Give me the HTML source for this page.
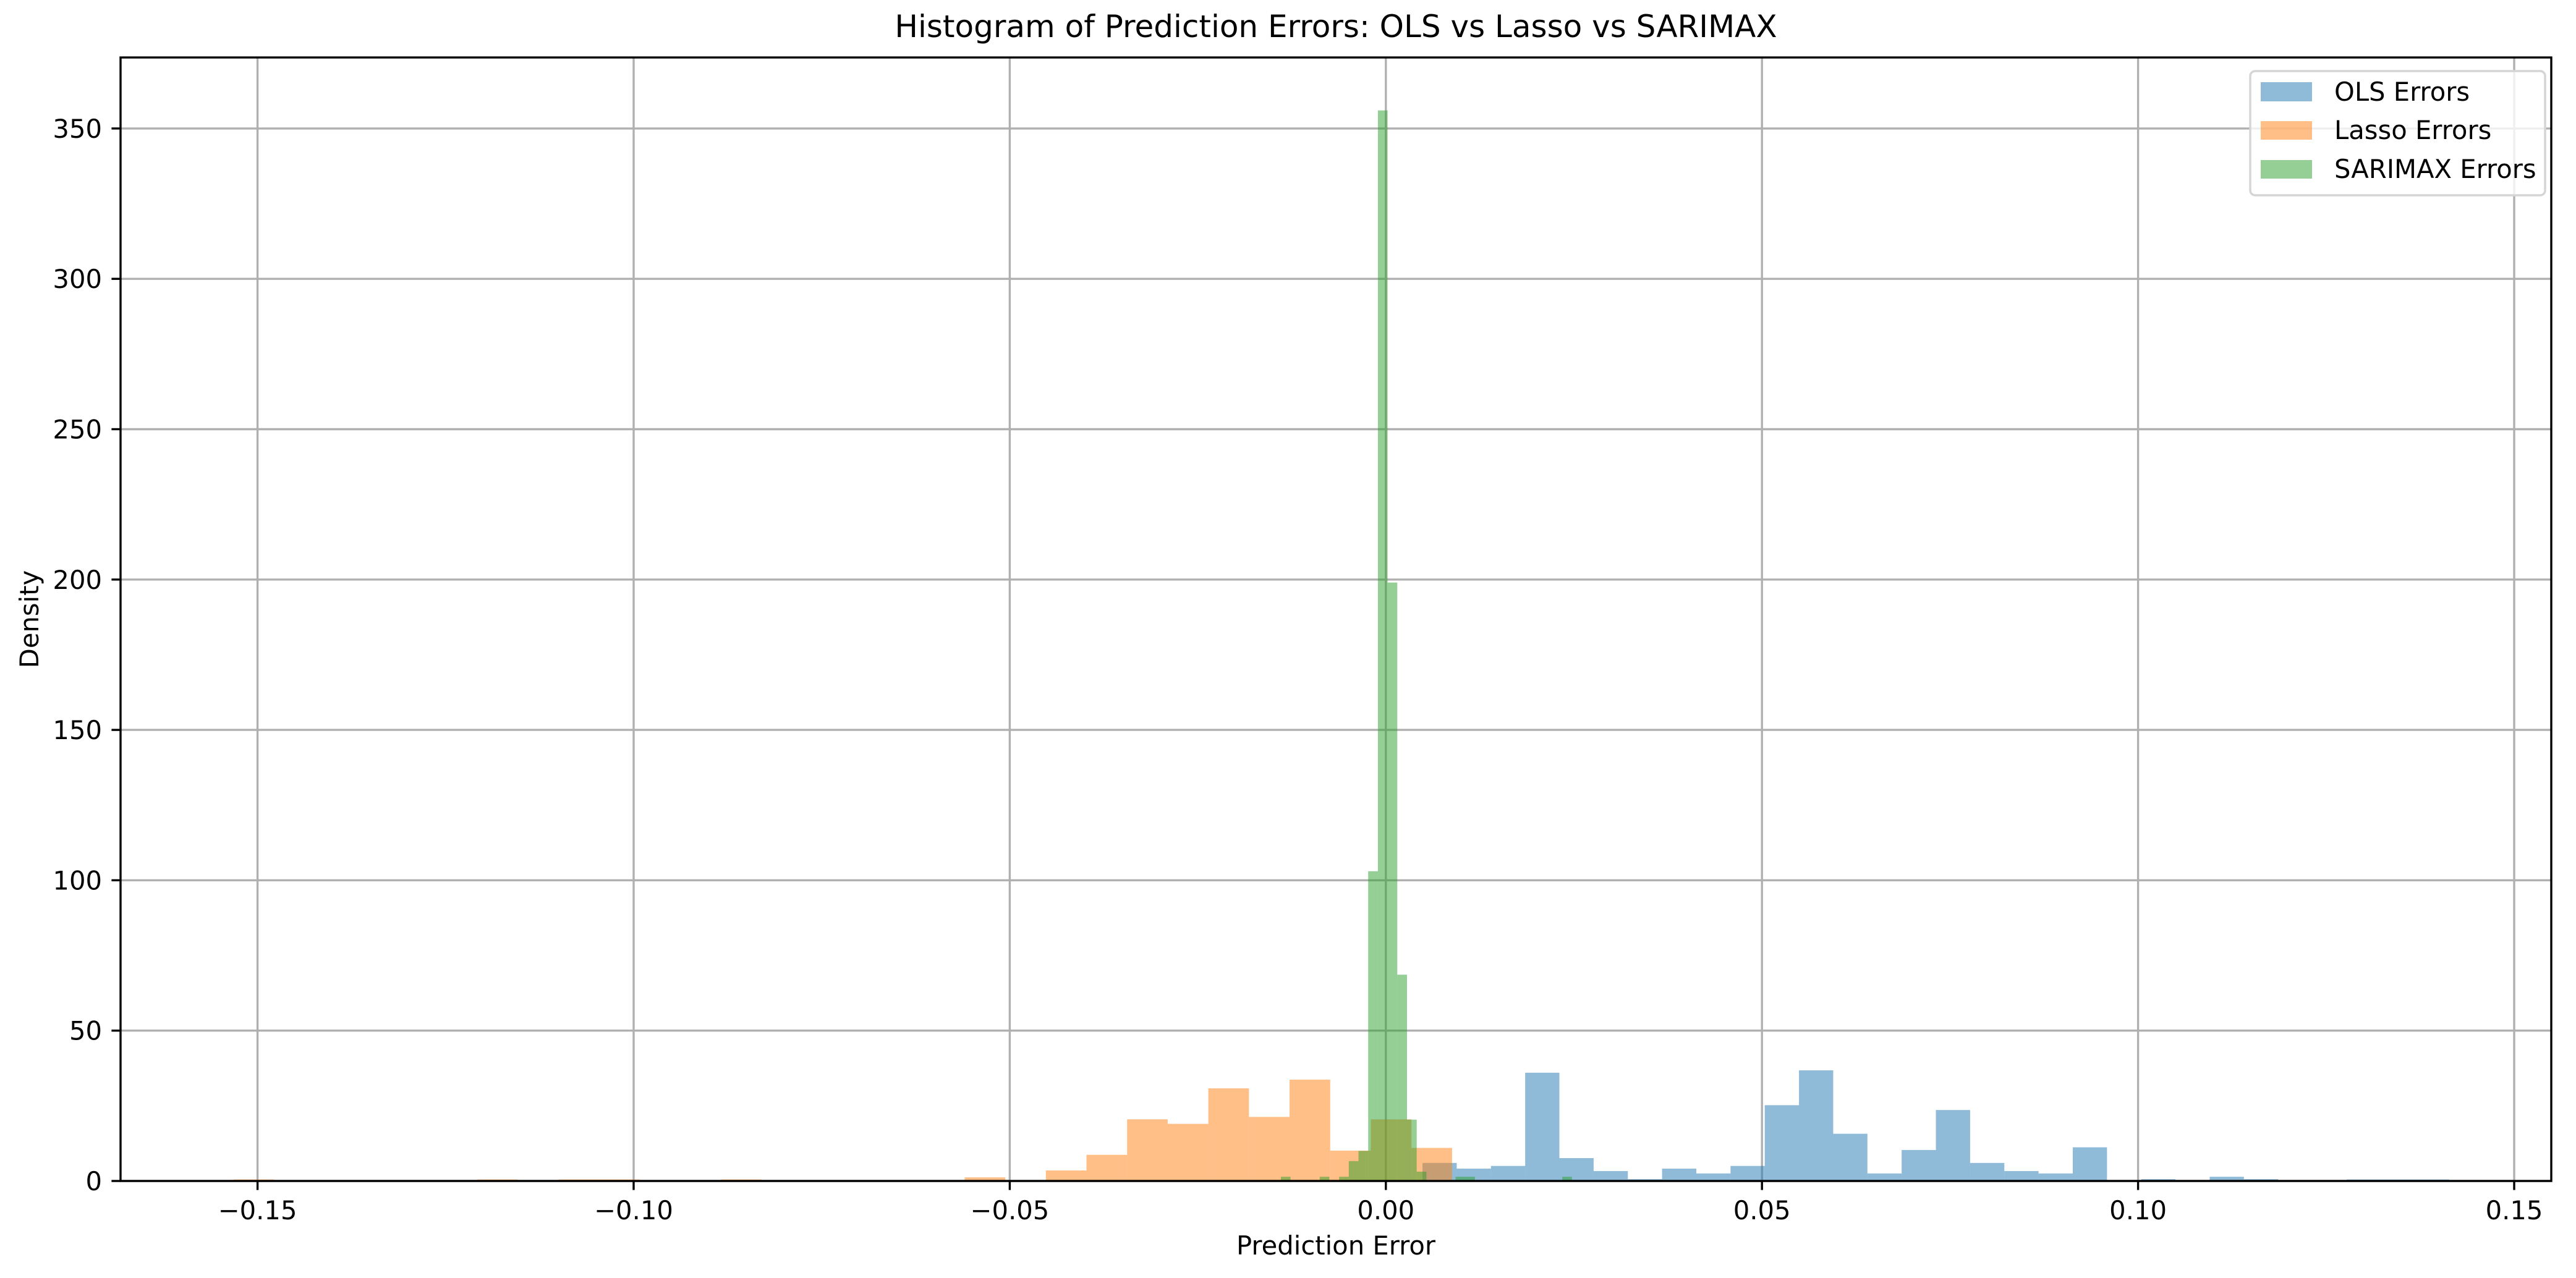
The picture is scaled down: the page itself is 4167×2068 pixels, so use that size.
<!DOCTYPE html>
<html><head><meta charset="utf-8"><style>
html,body{margin:0;padding:0;background:#fff;}
svg{display:block;font-family:"DejaVu Sans","Liberation Sans",sans-serif;}
</style></head><body>
<svg id="chart" width="4167" height="2068" viewBox="0 0 4167 2068" xmlns="http://www.w3.org/2000/svg">
<rect x="0" y="0" width="4167" height="2068" fill="#fff"/>
<g id="grid"></g>
<g id="bars"></g>
<g id="axes"></g>
<text x="2161" y="60" font-size="50" text-anchor="middle">Histogram of Prediction Errors: OLS vs Lasso vs SARIMAX</text>
<text x="2161" y="2030" font-size="41.7" text-anchor="middle">Prediction Error</text>
<text x="62" y="1002" font-size="41.7" text-anchor="middle" transform="rotate(-90 62 1002)">Density</text>
<g>
<rect x="3640" y="115" width="477" height="201" rx="8" fill="#fff" fill-opacity="0.8" stroke="#d5d5d5" stroke-width="3.5"/>
<g><rect x="3657" y="133" width="83" height="31" fill="#1f77b4" fill-opacity="0.5"/><text x="3776" y="163" font-size="41.7">OLS Errors</text></g>
<g><rect x="3657" y="196" width="83" height="30" fill="#ff7f0e" fill-opacity="0.5"/><text x="3776" y="225" font-size="41.7">Lasso Errors</text></g>
<g><rect x="3657" y="259" width="83" height="30" fill="#2ca02c" fill-opacity="0.5"/><text x="3776" y="288" font-size="41.7">SARIMAX Errors</text></g>
</g>
</svg>
<script>
const xTicks = [-0.15, -0.10, -0.05, 0.00, 0.05, 0.10, 0.15];
const xTickLabels = ["\u22120.15", "\u22120.10", "\u22120.05", "0.00", "0.05", "0.10", "0.15"];
const yTicks = [0, 50, 100, 150, 200, 250, 300, 350];
const yTickLabels = ["0", "50", "100", "150", "200", "250", "300", "350"];

const olsStart = 0.00487;
const olsWidth = 0.00455;
const olsValues = [6, 4.1, 5, 36, 7.6, 3.3, 0.6, 4.1, 2.5, 5, 25.2, 36.8, 15.7, 2.5, 10.3, 23.6, 6, 3.3, 2.5, 11.2, 0, 0.6, 0, 1.4, 0.6, 0, 0, 0.5, 0.5, 0.5];

const lassoStart = -0.1532;
const lassoWidth = 0.0054;
const lassoValues = [0.5, 0, 0, 0, 0, 0, 0.5, 0, 0.5, 0.5, 0, 0, 0.5, 0, 0, 0, 0, 0, 1.2, 0, 3.5, 8.7, 20.5, 19, 30.8, 21.3, 33.7, 10.1, 20.5, 11];

const sarimaxStart = -0.01396;
const sarimaxWidth = 0.00129;
const sarimaxValues = [1.4, 0, 0, 0, 1.4, 0, 1.4, 6.6, 10, 103, 356, 199, 68.6, 20.4, 3.1, 0, 0, 0, 1.4, 1.4, 0, 0, 0, 0, 0, 0, 0, 0, 0, 1.4];

const L = 195, R = 4127, T = 93, B = 1911;
const xs = v => 2241.8 + v * 12168;
const ys = v => B - v * 4.866;
const NS = "http://www.w3.org/2000/svg";
function mk(tag, attrs, parent) {
  const el = document.createElementNS(NS, tag);
  for (const k in attrs) el.setAttribute(k, attrs[k]);
  parent.appendChild(el);
  return el;
}
const grid = document.getElementById('grid');
const bars = document.getElementById('bars');
const axes = document.getElementById('axes');

xTicks.forEach((t, i) => {
  const x = xs(t);
  const g = mk('line', {x1: x, x2: x, y1: T, y2: B, stroke: '#b0b0b0', 'stroke-width': 3.4}, grid);
  
  
  const tk = mk('line', {x1: x, x2: x, y1: B, y2: B + 14.6, stroke: '#000', 'stroke-width': 3.4}, axes);
  
  
  const lb = mk('text', {x: x, y: B + 62, 'font-size': 41.7, 'text-anchor': 'middle'}, axes);
  lb.textContent = xTickLabels[i];
  
  
});
yTicks.forEach((t, i) => {
  const y = ys(t);
  const g = mk('line', {x1: L, x2: R, y1: y, y2: y, stroke: '#b0b0b0', 'stroke-width': 3.4}, grid);
  
  
  const tk = mk('line', {x1: L - 14.6, x2: L, y1: y, y2: y, stroke: '#000', 'stroke-width': 3.4}, axes);
  
  
  const lb = mk('text', {x: L - 30, y: y + 15, 'font-size': 41.7, 'text-anchor': 'end'}, axes);
  lb.textContent = yTickLabels[i];
  
  
});

function drawSeries(start, width, values, color, name) {
  values.forEach((v, i) => {
    if (v <= 0) return;
    const x0 = xs(start + i * width), x1 = xs(start + (i + 1) * width);
    const r = mk('rect', {x: x0, y: ys(v), width: x1 - x0, height: B - ys(v), fill: color, 'fill-opacity': 0.5}, bars);
    
    
  });
}
drawSeries(olsStart, olsWidth, olsValues, '#1f77b4', 'ols');
drawSeries(lassoStart, lassoWidth, lassoValues, '#ff7f0e', 'lasso');
drawSeries(sarimaxStart, sarimaxWidth, sarimaxValues, '#2ca02c', 'sarimax');

const frame = mk('rect', {x: L, y: T, width: R - L, height: B - T, fill: 'none', stroke: '#000', 'stroke-width': 3.4}, axes);


</script>
</body></html>
